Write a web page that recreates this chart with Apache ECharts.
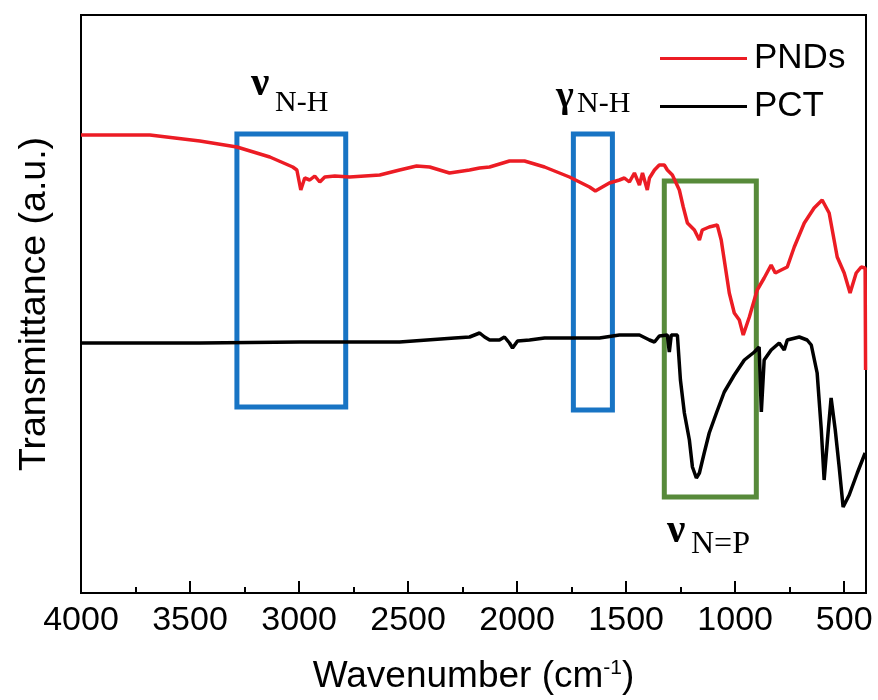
<!DOCTYPE html>
<html>
<head>
<meta charset="utf-8">
<script src="https://cdn.jsdelivr.net/npm/echarts@6/dist/echarts.min.js"></script>
<style>html,body{margin:0;padding:0;background:#fff}#c{width:878px;height:700px}</style>
</head>
<body>
<div id="c"></div>
<script>
// ---- data ----
const seriesNames = ['PNDs', 'PCT'];
const pndsWavenumber = [4000,3684,3455,3285,3134,3029,3010,2992,2983,2974,2951,2928,2905,2882,2836,2768,2630,2539,2461,2401,2310,2218,2172,2126,2035,1966,1874,1760,1668,1641,1577,1531,1508,1485,1462,1439,1425,1403,1393,1370,1348,1325,1311,1288,1256,1238,1219,1187,1164,1151,1119,1082,1064,1050,1027,1004,981,963,935,899,867,835,816,789,761,729,683,638,601,569,532,500,473,445,422,404,402];
const pndsValue = [458,458,452,446,436,426,423,403,409,415,413,417,411,416,417,416,418,423,427,426,420,423,425,426,432,432,426,416,406,402,410,413,415,411,420,408,420,403,415,423,428,428,423,418,403,386,370,363,353,363,366,368,353,333,300,280,273,258,276,303,315,328,320,323,326,346,370,385,393,380,336,320,300,320,326,325,223];
const pctWavenumber = [4000,3455,2997,2539,2287,2218,2172,2149,2126,2081,2058,2035,2021,1998,1943,1874,1622,1531,1439,1393,1370,1348,1311,1302,1293,1265,1251,1233,1210,1196,1178,1164,1142,1119,1086,1050,1004,958,912,890,880,867,835,798,775,761,706,670,651,624,605,592,573,560,541,523,505,477,440,404];
const pctValue = [250,250,251,251,255,256,260,256,253,253,256,250,245,252,253,255,255,258,258,253,251,257,258,241,258,258,213,180,153,126,115,120,140,160,180,201,218,233,241,246,181,233,243,250,243,253,256,253,248,220,163,113,163,195,163,126,86,98,120,140];
// highlight boxes: [wavenumber from, wavenumber to, value low, value high]
const boxBlue1 = [3285, 2786, 186, 459];
const boxBlue2 = [1742, 1563, 183, 459];
const boxGreen = [1325, 903, 96, 412];
const xTickLabels = ['4000','3500','3000','2500','2000','1500','1000','500'];

const zip = (xs, ys) => xs.map((x, i) => [x, ys[i]]);
const area = (b, color) => [{xAxis: b[0], yAxis: b[3], itemStyle: {color: 'rgba(0,0,0,0)', borderColor: color, borderWidth: 5}}, {xAxis: b[1], yAxis: b[2]}];

const RED = '#ec1c24', BLUE = '#1874c4', GREEN = '#578a3a';
const SANS = '"Liberation Sans", Arial, sans-serif';
const SERIF = '"Liberation Serif", "Times New Roman", serif';

const chart = echarts.init(document.getElementById('c'), null, {renderer: 'canvas'});
chart.setOption({
  animation: false,
  backgroundColor: '#fff',
  grid: {left: 81, top: 15, right: 12, bottom: 107, show: true, borderColor: '#000', borderWidth: 2, backgroundColor: 'rgba(0,0,0,0)'},
  legend: {
    data: seriesNames,
    orient: 'vertical',
    left: 655, top: 36,
    itemWidth: 87, itemHeight: 20, itemGap: 13,
    textStyle: {fontSize: 35, fontFamily: SANS, color: '#000', padding: [0, 0, 0, 2]},
    icon: 'path://M0,8.5 L87,8.5 L87,11.5 L0,11.5 Z'
  },
  xAxis: {
    type: 'value', inverse: true, min: 400, max: 4000, splitNumber: 7,
    axisLine: {show: true, onZero: false, lineStyle: {color: '#000', width: 2}},
    axisTick: {show: true, inside: true, length: 12, lineStyle: {color: '#000', width: 2}},
    minorTick: {show: true, splitNumber: 2, length: 6, lineStyle: {color: '#000', width: 2}},
    splitLine: {show: false}, minorSplitLine: {show: false},
    axisLabel: {
      fontSize: 34, fontFamily: SANS, color: '#000', margin: 11,
      formatter: v => xTickLabels.indexOf(String(v)) >= 0 ? String(v) : ''
    },
    name: 'Wavenumber (cm{sup|-1})',
    nameLocation: 'middle', nameGap: 65,
    nameTextStyle: {fontSize: 37, fontFamily: SANS, color: '#000',
      rich: {sup: {fontSize: 21, fontFamily: SANS, color: '#000', verticalAlign: 'top', padding: [0, 0, 14, 0]}}}
  },
  yAxis: {
    type: 'value', min: 0, max: 578,
    axisLine: {show: true, lineStyle: {color: '#000', width: 2}},
    axisTick: {show: false}, axisLabel: {show: false}, splitLine: {show: false},
    name: 'Transmittance (a.u.)', nameLocation: 'middle', nameGap: 27,
    nameTextStyle: {fontSize: 37.5, fontFamily: SANS, color: '#000'}
  },
  series: [
    {name: 'PCT', type: 'line', data: zip(pctWavenumber, pctValue), symbol: 'none', z: 2,
     lineStyle: {color: '#000', width: 3.5}, itemStyle: {color: '#000'}},
    {name: 'boxes', type: 'line', data: [], z: 3, silent: true,
     markArea: {silent: true, data: [area(boxBlue1, BLUE), area(boxBlue2, BLUE), area(boxGreen, GREEN)]}},
    {name: 'PNDs', type: 'line', data: zip(pndsWavenumber, pndsValue), symbol: 'none', z: 4,
     lineStyle: {color: RED, width: 3.5}, itemStyle: {color: RED}}
  ],
  graphic: [
    {type: 'text', left: 251, top: 64, style: {text: 'ν', fontSize: 41, fontWeight: 'bold', fontFamily: SERIF, fill: '#000'}},
    {type: 'text', left: 275, top: 88, style: {text: 'N-H', fontSize: 30, fontFamily: SERIF, fill: '#000'}},
    {type: 'text', left: 556, top: 78, style: {text: 'γ', fontSize: 38, fontWeight: 'bold', fontFamily: SERIF, fill: '#000'}},
    {type: 'text', left: 577, top: 89, style: {text: 'N-H', fontSize: 30, fontFamily: SERIF, fill: '#000'}},
    {type: 'text', left: 667, top: 511, style: {text: 'ν', fontSize: 41, fontWeight: 'bold', fontFamily: SERIF, fill: '#000'}},
    {type: 'text', left: 691, top: 529, style: {text: 'N=P', fontSize: 32, fontFamily: SERIF, fill: '#000'}}
  ]
});
</script>
</body>
</html>
